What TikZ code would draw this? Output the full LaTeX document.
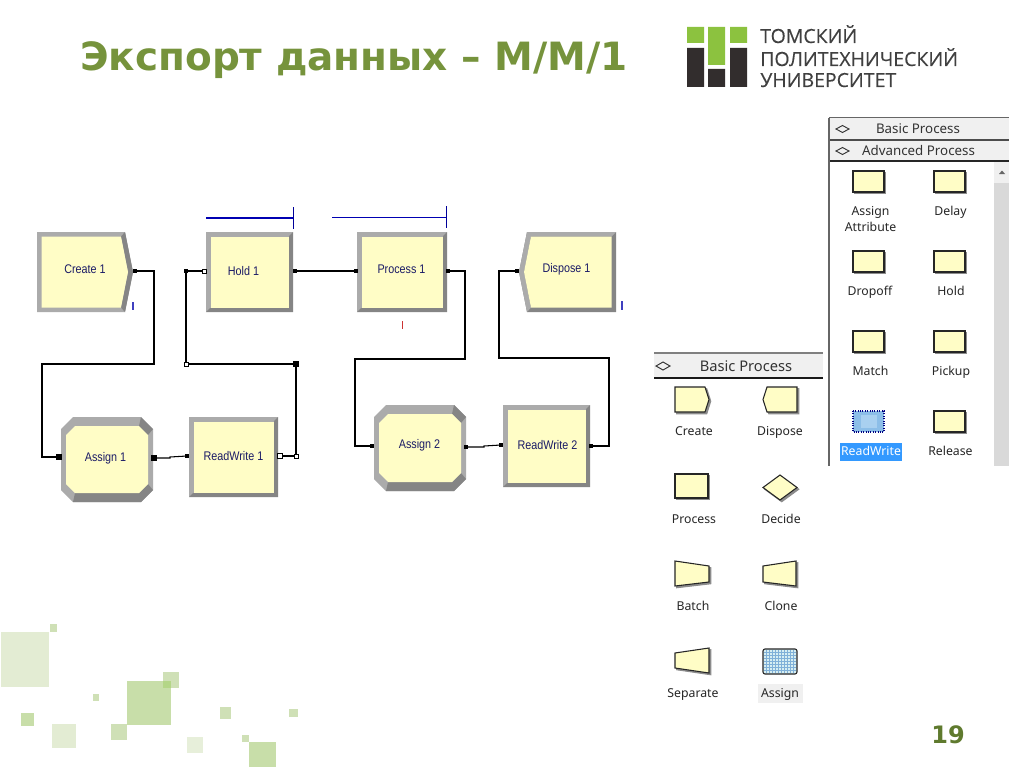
\documentclass[tikz,border=0pt]{standalone}
\usepackage{fontspec}
\setmainfont{Liberation Sans}
\newfontfamily\titlefont{DejaVu Sans}
\newfontfamily\logofont[FakeBold=0.25]{Open Sans}
\newfontfamily\uifont{Noto Sans}
\definecolor{titlegreen}{HTML}{76933C}
\definecolor{numgreen}{HTML}{5F7A2E}
\definecolor{modfill}{HTML}{FFFDC6}
\definecolor{bevlight}{HTML}{ABABAB}
\definecolor{bevdark}{HTML}{858585}
\definecolor{navytext}{HTML}{1B1B66}
\definecolor{rowgrey}{HTML}{F0F0F0}
\definecolor{hilite}{HTML}{3399FF}
\definecolor{deca}{HTML}{E3ECD3}
\definecolor{decb}{HTML}{CFE0B6}
\definecolor{decc}{HTML}{C8DEA9}
\definecolor{decd}{HTML}{E7EFDA}
\definecolor{dece}{HTML}{B4D687}
\definecolor{logogreen}{HTML}{8CC23F}
\definecolor{logodark}{HTML}{322D2D}
\definecolor{rwblue}{HTML}{8CBEE8}
\definecolor{rwlight}{HTML}{A9D0F0}
\definecolor{asgblue}{HTML}{D6EEF2}
\definecolor{asggrid}{HTML}{7FB0D8}
\tikzset{
  conn/.style={draw=black,line width=0.8pt},
  portout/.style={fill=black,inner sep=0pt,minimum size=3pt,draw=none,rectangle},
  portin/.style={fill=white,draw=black,line width=0.5pt,inner sep=0pt,minimum size=3pt,rectangle},
  modlabel/.style={font=\fontsize{9.4}{10}\selectfont,text=navytext,xscale=0.86,inner sep=0pt},
  pallabel/.style={anchor=base,font=\uifont\fontsize{9.2}{11}\selectfont,text=black!85,inner sep=0pt,align=center},
  rowlabel/.style={font=\uifont\fontsize{10}{11}\selectfont,text=black!80,inner sep=0pt},
  logotext/.style={anchor=base west,inner sep=0pt,text=black!75,font=\logofont\fontsize{14.6}{16}\selectfont},
  paliconshape/.style={fill=modfill,draw=black!85,line width=0.8pt,preaction={draw=black!45,fill=black!45,line width=0.8pt,transform canvas={xshift=1.3pt,yshift=-1.3pt}}},
}
% x1 y1 x2 y2
\newcommand{\procshape}[4]{%
  \fill[bevlight] (#1,#2) rectangle (#3,#4);
  \fill[bevdark] (#3,#2) -- (#3,#4) -- (#1,#4) -- ({#1+4},{#4-4}) -- ({#3-4},{#4-4}) -- ({#3-4},{#2+4}) -- cycle;
  \fill[modfill] ({#1+4.5},{#2+4.5}) rectangle ({#3-4.5},{#4-4.5});
}
\newcommand{\createshape}[4]{% x1 y1 x2 y2 with tip on right
  \fill[bevlight] (#1,#2) -- ({#3-8},#2) -- (#3,{(#2+#4)/2}) -- ({#3-8},#4) -- (#1,#4) -- cycle;
  \fill[bevdark] ({#3-8},#2) -- (#3,{(#2+#4)/2}) -- ({#3-8},#4) -- ({#3-12},{#4-4.5}) -- ({#3-5},{(#2+#4)/2}) -- ({#3-12},{#2+4.5}) -- cycle;
  \fill[modfill] ({#1+4.5},{#2+4.5}) -- ({#3-12},{#2+4.5}) -- ({#3-5},{(#2+#4)/2}) -- ({#3-12},{#4-4.5}) -- ({#1+4.5},{#4-4.5}) -- cycle;
}
\newcommand{\disposeshape}[4]{%
  \fill[bevdark] ({#1+8},#2) -- (#3,#2) -- (#3,#4) -- ({#1+8},#4) -- (#1,{(#2+#4)/2}) -- cycle;
  \fill[bevlight] ({#1+8},#2) -- (#3,#2) -- ({#3-4.5},{#2+4.5}) -- ({#1+12},{#2+4.5}) -- ({#1+5},{(#2+#4)/2}) -- ({#1+12},{#4-4.5}) -- ({#1+8},#4) -- (#1,{(#2+#4)/2}) -- cycle;
  \fill[modfill] ({#1+12},{#2+4.5}) -- ({#3-4.5},{#2+4.5}) -- ({#3-4.5},{#4-4.5}) -- ({#1+12},{#4-4.5}) -- ({#1+5},{(#2+#4)/2}) -- cycle;
}
\newcommand{\octshape}[4]{%
  \fill[bevlight] ({#1+12},#2) -- ({#3-12},#2) -- (#3,{#2+12}) -- (#3,{#4-12}) -- ({#3-12},#4) -- ({#1+12},#4) -- (#1,{#4-12}) -- (#1,{#2+12}) -- cycle;
  \fill[bevdark] ({#3-12},#2) -- (#3,{#2+12}) -- ({#3-5},{#2+18}) -- ({#3-14},{#2+9}) -- cycle;
  \fill[bevdark] ({#3-12},#4) -- (#3,{#4-12}) -- ({#3-5},{#4-18}) -- ({#3-14},{#4-9}) -- ({#1+14},{#4-9}) -- ({#1+12},#4) -- cycle;
  \fill[modfill] ({#1+14},{#2+9}) -- ({#3-14},{#2+9}) -- ({#3-5},{#2+18}) -- ({#3-5},{#4-18}) -- ({#3-14},{#4-9}) -- ({#1+14},{#4-9}) -- ({#1+5},{#4-18}) -- ({#1+5},{#2+18}) -- cycle;
}
\begin{document}
\begin{tikzpicture}[x=0.75pt,y=-0.75pt]
\useasboundingbox (0,0) rectangle (1024,767);
\fill[white] (0,0) rectangle (1024,767);
% decorative squares
\fill[deca] (1,632) rectangle (49,687);
\fill[decb] (50,624) rectangle (57,632);
\fill[decb] (93,694) rectangle (99,701);
\fill[decc] (21,713) rectangle (34,726);
\fill[deca] (52,724) rectangle (76,748);
\fill[decc] (127,681) rectangle (171,725);
\fill[decb] (163,672) rectangle (179,688);
\fill[dece] (163,681) rectangle (171,688);
\fill[decb] (111,724) rectangle (127,740);
\fill[decb] (220,707) rectangle (231,719);
\fill[decb] (289,709) rectangle (298,717);
\fill[decd] (187,737) rectangle (203,753);
\fill[decb] (242,735) rectangle (249,742);
\fill[decc] (249,742) rectangle (276,767);
% title
\node[anchor=base west,inner sep=0pt,text=titlegreen,font=\titlefont\bfseries\fontsize{29.2}{34}\selectfont] (title) at (80,71) {Экспорт данных – M/M/1};
\node[anchor=center,inner sep=0pt,text=numgreen,font=\titlefont\bfseries\fontsize{18}{22}\selectfont] (pagenum) at (948,735) {19};
% logo
\fill[logogreen] (687,27) rectangle (704,43) (708,27) rectangle (725,65) (730,27) rectangle (747,43);
\fill[logodark] (687,48) rectangle (704,87) (708,69) rectangle (725,87) (730,48) rectangle (747,87);
\node[logotext] (logo1) at (760,43) {ТОМСКИЙ};
\node[logotext] (logo2) at (760,66) {ПОЛИТЕХНИЧЕСКИЙ};
\node[logotext] (logo3) at (760,87) {УНИВЕРСИТЕТ};
% modules
\createshape{37}{232}{133}{312}
\procshape{206}{232}{293}{312}
\procshape{357}{232}{447}{312}
\disposeshape{519}{232}{616}{312}
\octshape{61}{417}{153}{502}
\procshape{189}{417}{278}{497}
\octshape{374}{405}{466}{491}
\procshape{503}{405}{590}{487}
\node[modlabel] (create) at (85,269.5) {Create 1};
\node[modlabel] (hold) at (243.5,271) {Hold 1};
\node[modlabel] (process) at (401.5,269.5) {Process 1};
\node[modlabel] (dispose) at (566.5,269.5) {Dispose 1};
\node[modlabel] (assign1) at (105.5,458) {Assign 1};
\node[modlabel] (rw1) at (233.5,456.5) {ReadWrite 1};
\node[modlabel] (assign2) at (419.5,445.5) {Assign 2};
\node[modlabel] (rw2) at (547.5,445.5) {ReadWrite 2};
% small animation marks
\draw[blue!50!gray,line width=0.8pt] (133,302) -- (133,310);
\draw[red!60!gray,line width=0.8pt] (402.5,321) -- (402.5,329);
\draw[blue!50!gray,line width=0.8pt] (622,301) -- (622,310);
% hold and process queue lines
\coordinate (hq1) at (206,218);
\coordinate (hq2) at (293,218);
\coordinate (pq1) at (332,217);
\coordinate (pq2) at (446,217);
\draw[blue!70!black,line width=1pt] (hq1) -- (hq2);
\draw[blue!60!black,line width=0.5pt] (293,207) -- (293,229);
\draw[blue!70!black,line width=0.7pt] (pq1) -- (pq2);
\draw[blue!60!black,line width=0.5pt] (446,206) -- (446,228);
% ports
\node[portout] (createout) at (135,271) {};
\node[portout] (holdout) at (295,271) {};
\node[portout] (procin) at (356,271) {};
\node[portout] (procout) at (448,271) {};
\node[portout] (dispin) at (517,271) {};
\node[portout,minimum size=4pt] (a1in) at (59,457) {};
\node[portout,minimum size=4pt] (a1out) at (154,458) {};
\node[portout] (r1in) at (187,456) {};
\node[portin,minimum size=4pt] (r1out) at (280,456) {};
\node[portin] (w1) at (296,456) {};
\node[portin,minimum size=4pt,fill=black] (w2) at (296,364) {};
\node[portin] (w3) at (186,364) {};
\node[portout] (w4) at (186,271) {};
\node[portin] (holdin) at (204,271) {};
\node[portout] (a2in) at (372,446) {};
\node[portout] (a2out) at (466,447) {};
\node[portout] (r2in) at (501,445) {};
\node[portout] (r2out) at (591,446) {};
% connectors
\draw[conn] (createout.center) -- ++(19,0) -- ++(0,93) -- ++(-112,0) -- ++(0,93) -- (a1in.center);
\draw[conn] (a1out.center) -- ++(16,0) -- ++(0,-1) -- (r1in.center);
\draw[conn] (r1out) -- (w1);
\draw[conn] (w1) -- (w2);
\draw[conn] (w2) -- (w3);
\draw[conn] (w3) -- (w4);
\draw[conn] (w4) -- (holdin);
\draw[conn] (holdout.center) -- (procin.center);
\draw[conn] (procout.center) -- ++(17,0) -- ++(0,88) -- ++(-110,0) -- ++(0,87) -- (a2in.center);
\draw[conn] (a2out.center) -- ++(18,0) -- ++(0,-1) -- (r2in.center);
\draw[conn] (r2out.center) -- ++(18,0) -- ++(0,-88) -- ++(-110,0) -- ++(0,-87) -- (dispin.center);
% right panel
\fill[rowgrey] (829,118) rectangle (1009,161);
\draw[black!60,line width=1pt] (829,117.5) -- (1009,117.5);
\draw[black!70,line width=0.8pt] (829,140) -- (1009,140);
\draw[black!85,line width=1pt] (829,161) -- (1009,161);
\draw[black!60,line width=1.4pt] (829,118) -- (829,466);
\fill[rowgrey] (994,162) rectangle (1009,466);
\fill[black!15] (994,183) rectangle (1009,466);
\fill[black!60] (999,174) -- (1002,170.5) -- (1005,174) -- cycle;
\draw[black!80,line width=0.7pt] (836,129) -- (842.5,125.5) -- (849,129) -- (842.5,132.5) -- cycle;
\draw[black!80,line width=0.7pt] (836,151) -- (842.5,147.5) -- (849,151) -- (842.5,154.5) -- cycle;
\node[rowlabel] (rbasic) at (918,129) {Basic Process};
\node[rowlabel] (radv) at (918.5,150.5) {Advanced Process};
\foreach \xa/\ya in {853/171,934/171,853/251,934/251,853/331,934/331,934/411}{
  \path[paliconshape] (\xa,\ya) rectangle ++(31,21);
}
\path[fill=rwblue,draw=blue!50!black,densely dotted,line width=0.8pt] (853,411) rectangle ++(31,21);
\fill[rwlight] (861,415) rectangle (877,428);
\fill[hilite] (840,443) rectangle (902,461);
\node[pallabel] (lassignattr) at (870.5,215) {Assign};
\node[pallabel] (lassignattr2) at (870.5,231) {Attribute};
\node[pallabel] (ldelay) at (950.5,215) {Delay};
\node[pallabel] (ldropoff) at (870,295) {Dropoff};
\node[pallabel] (lhold) at (951,295) {Hold};
\node[pallabel] (lmatch) at (870.5,375) {Match};
\node[pallabel] (lpickup) at (951,375) {Pickup};
\node[pallabel,text=white] (lreadwrite) at (871,455.5) {ReadWrite};
\node[pallabel] (lrelease) at (950.5,455.5) {Release};
% left panel
\fill[rowgrey] (654,353) rectangle (823,378);
\draw[black!50,line width=1.6pt] (654,353) -- (823,353);
\draw[black!90,line width=1pt] (654,378) -- (823,378);
\draw[black!80,line width=0.7pt] (656,366) -- (663,362) -- (670,366) -- (663,370) -- cycle;
\node[rowlabel,font=\uifont\fontsize{11}{12}\selectfont] (lbasic) at (746,366) {Basic Process};
\path[paliconshape] (675,387) -- (705,387) -- (709,399.5) -- (705,412) -- (675,412) -- cycle;
\path[paliconshape] (767,387) -- (797,387) -- (797,412) -- (767,412) -- (763,399.5) -- cycle;
\path[paliconshape] (675,474) rectangle (708,498);
\path[paliconshape] (763,487.5) -- (780,475) -- (797,487.5) -- (780,500) -- cycle;
\path[paliconshape] (675,561) -- (709,566) -- (709,582) -- (675,586) -- cycle;
\path[paliconshape] (763,566) -- (796,561) -- (796,586) -- (763,582) -- cycle;
\path[paliconshape] (675,653) -- (709,648) -- (709,673) -- (675,668) -- cycle;
\path[fill=asgblue,rounded corners=1.5pt] (763,649) rectangle (797,674);
\foreach \gx in {766,769,...,795}{\draw[asggrid,line width=0.45pt] (\gx,650) -- (\gx,673);}
\foreach \gy in {652,655,...,672}{\draw[asggrid,line width=0.45pt] (764,\gy) -- (796,\gy);}
\draw[black!85,line width=0.8pt,rounded corners=1.5pt] (763,649) rectangle (797,674);
\fill[rowgrey] (758,684) rectangle (803,703);
\node[pallabel] (lcreate) at (694,435.5) {Create};
\node[pallabel] (ldispose) at (780,435.5) {Dispose};
\node[pallabel] (lprocess) at (694,523) {Process};
\node[pallabel] (ldecide) at (781,523) {Decide};
\node[pallabel] (lbatch) at (693,610) {Batch};
\node[pallabel] (lclone) at (781,610) {Clone};
\node[pallabel] (lseparate) at (693,697.5) {Separate};
\node[pallabel] (lassign) at (780,697.5) {Assign};
\end{tikzpicture}
\end{document}
